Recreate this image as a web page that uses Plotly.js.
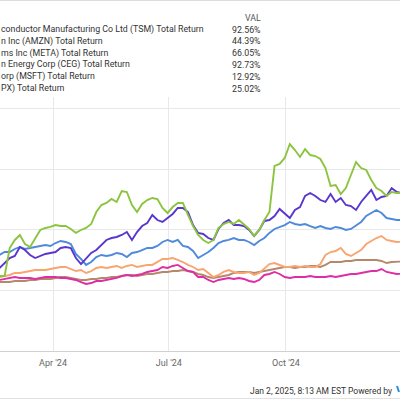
<!DOCTYPE html>
<html>
<head>
<meta charset="utf-8">
<script src="https://cdn.plot.ly/plotly-3.0.1.min.js"></script>
<style>html,body{margin:0;padding:0;background:#fff;}#chart{width:400px;height:400px;}</style>
</head>
<body>
<div id="chart"></div>
<script>
// ---- data (total return, %) sampled every 4 days from 2024-02-19 ----
const startDate = [2024, 1, 19];
const stepDays = 4;
// legend names as visible in the (cropped) reference
const seriesNames = [
  'conductor Manufacturing Co Ltd (TSM) Total Return',
  'n Inc (AMZN) Total Return',
  'ms Inc (META) Total Return',
  'n Energy Corp (CEG) Total Return',
  'orp (MSFT) Total Return',
  'PX) Total Return'
];
const legendVals = ['92.56%', '44.39%', '66.05%', '92.73%', '12.92%', '25.02%'];
const tickLabelFormat = "%b '%y";

const tsm = [18.7,23.6,28.5,30.5,39.4,36.4,31.5,28.5,30.5,32.5, 33.5,34.4,38.4,39.4,38.4,28.5,22.6,28.5,33.5,36.4,
  41.3,46.3,48.2,49.2,51.2,54.1,46.3,54.1,60.0,63.0, 70.9,65.9,64.0,67.9,71.9,77.8,77.8,73.8,61.0,53.2,
  52.2,48.2,46.3,57.1,63.0,65.9,61.0,61.0,60.0,56.1, 50.2,56.1,65.0,65.9,69.9,76.8,72.8,67.9,75.8,78.7,
  89.6,92.5,89.6,85.6,83.7,91.5,83.7,87.6,80.7,79.7, 75.8,83.7,89.6,95.5,85.6,88.6,89.6,97.4,93.5,92.56];
const amzn = [9.8,10.8,11.8,13.8,13.8,14.8,15.7,16.7,16.7,16.7, 17.7,18.7,19.7,19.7,17.7,15.7,16.7,13.8,15.7,18.7,
  19.7,18.7,19.7,20.7,18.7,20.7,21.7,19.7,20.7,21.7, 21.7,24.6,27.6,27.6,28.5,26.6,24.6,21.7,19.7,16.7,
  17.7,13.8,9.8,11.8,14.8,16.7,14.8,13.8,13.8,14.8, 11.8,13.8,18.7,22.6,23.6,21.7,19.7,19.7,20.7,19.7,
  20.7,19.7,19.7,22.6,31.5,34.4,35.4,38.4,32.5,30.5, 33.5,36.4,42.3,45.3,48.2,50.2,46.3,45.3,44.3,44.39];
const meta = [31.5,34.4,34.4,37.4,39.4,37.4,38.4,39.4,40.4,41.3, 40.4,43.3,45.3,44.3,42.3,32.5,27.6,21.7,24.6,29.5,
  31.5,30.5,31.5,33.5,32.5,29.5,33.5,34.4,36.4,38.4, 38.4,40.4,44.3,46.3,44.3,46.3,40.4,39.4,35.4,28.5,
  31.5,34.4,38.4,43.3,45.3,46.3,48.2,46.3,46.3,44.3, 41.3,45.3,48.2,53.2,57.1,59.1,61.0,64.0,62.0,61.0,
  62.0,60.0,58.1,60.0,58.1,57.1,59.1,58.1,56.1,57.1, 61.0,64.0,69.9,72.8,75.8,72.8,67.9,66.9,65.9,66.05];
const ceg = [10.8,10.8,38.4,46.3,51.2,42.3,39.4,48.2,56.1,58.1, 59.1,61.0,60.0,60.0,57.1,53.2,56.1,58.1,62.0,73.8,
  80.7,82.7,86.6,83.7,94.5,93.5,80.7,73.8,81.7,85.6, 87.6,86.6,77.8,72.8,78.7,82.7,82.7,70.9,60.0,51.2,
  46.3,43.3,46.3,58.1,62.0,64.0,62.0,65.9,61.0,57.1, 50.2,56.1,65.9,73.8,119.1,121.1,127.0,140.7,134.8,128.0,
  135.8,129.9,128.9,126.0,117.1,99.4,100.4,91.5,97.4,110.2, 123.0,117.1,115.2,105.3,97.4,94.5,89.6,93.5,92.5,92.73];
const msft = [6.9,7.9,8.9,9.8,8.9,8.9,8.9,7.9,8.9,9.8, 9.8,9.8,8.9,8.9,7.9,6.9,4.9,3.0,3.9,5.9,
  5.9,6.9,7.9,8.9,10.8,11.8,10.8,11.8,12.8,14.8, 15.7,16.7,19.7,18.7,20.7,21.7,18.7,15.7,14.8,9.8,
  9.8,6.9,4.9,6.9,7.9,8.9,7.9,8.9,7.9,5.9, 4.9,6.9,11.8,12.8,14.8,12.8,9.8,8.9,9.8,9.8,
  9.8,10.8,9.8,9.8,9.8,10.8,9.8,10.8,11.8,12.8, 12.8,13.8,14.8,15.7,15.7,17.7,14.8,13.8,12.8,12.92];
const spx = [4.9,4.9,4.9,5.9,5.9,5.9,6.9,6.9,7.9,7.9, 7.9,8.9,9.8,9.8,8.9,7.9,6.9,6.9,7.9,7.9,
  8.9,8.9,9.8,9.8,10.8,11.8,11.8,10.8,11.8,12.8, 12.8,13.8,14.8,14.8,15.7,15.7,16.7,15.7,14.8,12.8,
  11.8,9.8,8.9,9.8,10.8,11.8,13.8,14.8,14.8,14.8, 13.8,14.8,15.7,16.7,17.7,18.7,19.7,19.7,18.7,19.7,
  19.7,20.7,20.7,19.7,21.7,24.6,24.6,24.6,25.6,25.6, 26.6,26.6,26.6,26.6,26.6,25.6,23.6,24.6,24.6,25.02];

const series = [tsm, amzn, meta, ceg, msft, spx];
const colors = ['#5a36cc', '#f8a570', '#4f89dc', '#8bc43f', '#dd2fa3', '#b5886c'];

const dates = [];
for (let i = 0; i < tsm.length; i++) {
  const d = new Date(Date.UTC(startDate[0], startDate[1], startDate[2] + stepDays * i));
  dates.push(d.toISOString().slice(0, 10));
}

// draw order: background lines first
const order = [5, 4, 1, 2, 0, 3];
const traces = order.map(k => ({
  type: 'scatter', mode: 'lines', x: dates, y: series[k],
  line: {color: colors[k], width: 1.9}, hoverinfo: 'skip', showlegend: false
}));

// ---- layout helpers (pixel -> paper) ----
const W = 400, T = 97, B = 351;
const px = p => p / W;
const py = p => (B - p) / (B - T);

const rowY = [29.5, 41.3, 53.1, 64.9, 76.7, 88.5];
const txtFont = {family: 'Roboto, sans-serif', size: 8.8, color: '#333'};

const annotations = [];
annotations.push({xref: 'paper', yref: 'paper', x: px(263), y: py(18), xanchor: 'right', yanchor: 'middle',
  text: 'VAL', showarrow: false, font: {family: 'Roboto, sans-serif', size: 8.8, color: '#555'}});
seriesNames.forEach((n, k) => {
  annotations.push({xref: 'paper', yref: 'paper', x: px(-1.5), y: py(rowY[k]), xanchor: 'left', yanchor: 'middle',
    text: n, showarrow: false, font: txtFont});
  annotations.push({xref: 'paper', yref: 'paper', x: px(263), y: py(rowY[k]), xanchor: 'right', yanchor: 'middle',
    text: legendVals[k], showarrow: false, font: txtFont});
});
annotations.push({xref: 'paper', yref: 'paper', x: px(394), y: py(391), xanchor: 'right', yanchor: 'middle',
  text: 'Jan 2, 2025, 8:13 AM EST Powered by', showarrow: false,
  font: {family: 'Roboto, sans-serif', size: 8.5, color: '#333'}});

const layout = {
  width: 400, height: 400,
  margin: {l: 0, r: 0, t: T, b: 400 - B, pad: 0},
  paper_bgcolor: '#fff', plot_bgcolor: '#fff',
  showlegend: false,
  xaxis: {
    type: 'date', range: ['2024-02-19 09:00', '2024-12-29 13:00'],
    tick0: '2024-01-01', dtick: 'M3', tickformat: tickLabelFormat,
    ticks: '', showgrid: true, gridcolor: '#e8e8e8', gridwidth: 1,
    showline: true, linecolor: '#d0d0d0', linewidth: 1,
    tickfont: {family: 'Roboto, sans-serif', size: 9, color: '#666'},
    ticklabelstandoff: 3, zeroline: false, fixedrange: true
  },
  yaxis: {
    range: [-63.0, 187.0], tickmode: 'linear', tick0: -3.9, dtick: 60,
    showticklabels: false, ticks: '', showgrid: true, gridcolor: '#e8e8e8', gridwidth: 1,
    zeroline: false, showline: false, fixedrange: true
  },
  shapes: [
    {type: 'line', xref: 'paper', yref: 'paper', x0: 0, x1: 1, y0: py(0.5), y1: py(0.5), line: {color: '#dcdcdc', width: 1}},
    {type: 'line', xref: 'paper', yref: 'paper', x0: 0, x1: 1, y0: py(398.5), y1: py(398.5), line: {color: '#e2e2e2', width: 1}},
    {type: 'line', xref: 'paper', yref: 'paper', x0: px(397), x1: px(399), y0: py(386), y1: py(392), line: {color: '#2a8fd6', width: 2}}
  ],
  annotations: annotations
};

Plotly.newPlot('chart', traces, layout, {displayModeBar: false, staticPlot: true});
</script>
</body>
</html>
